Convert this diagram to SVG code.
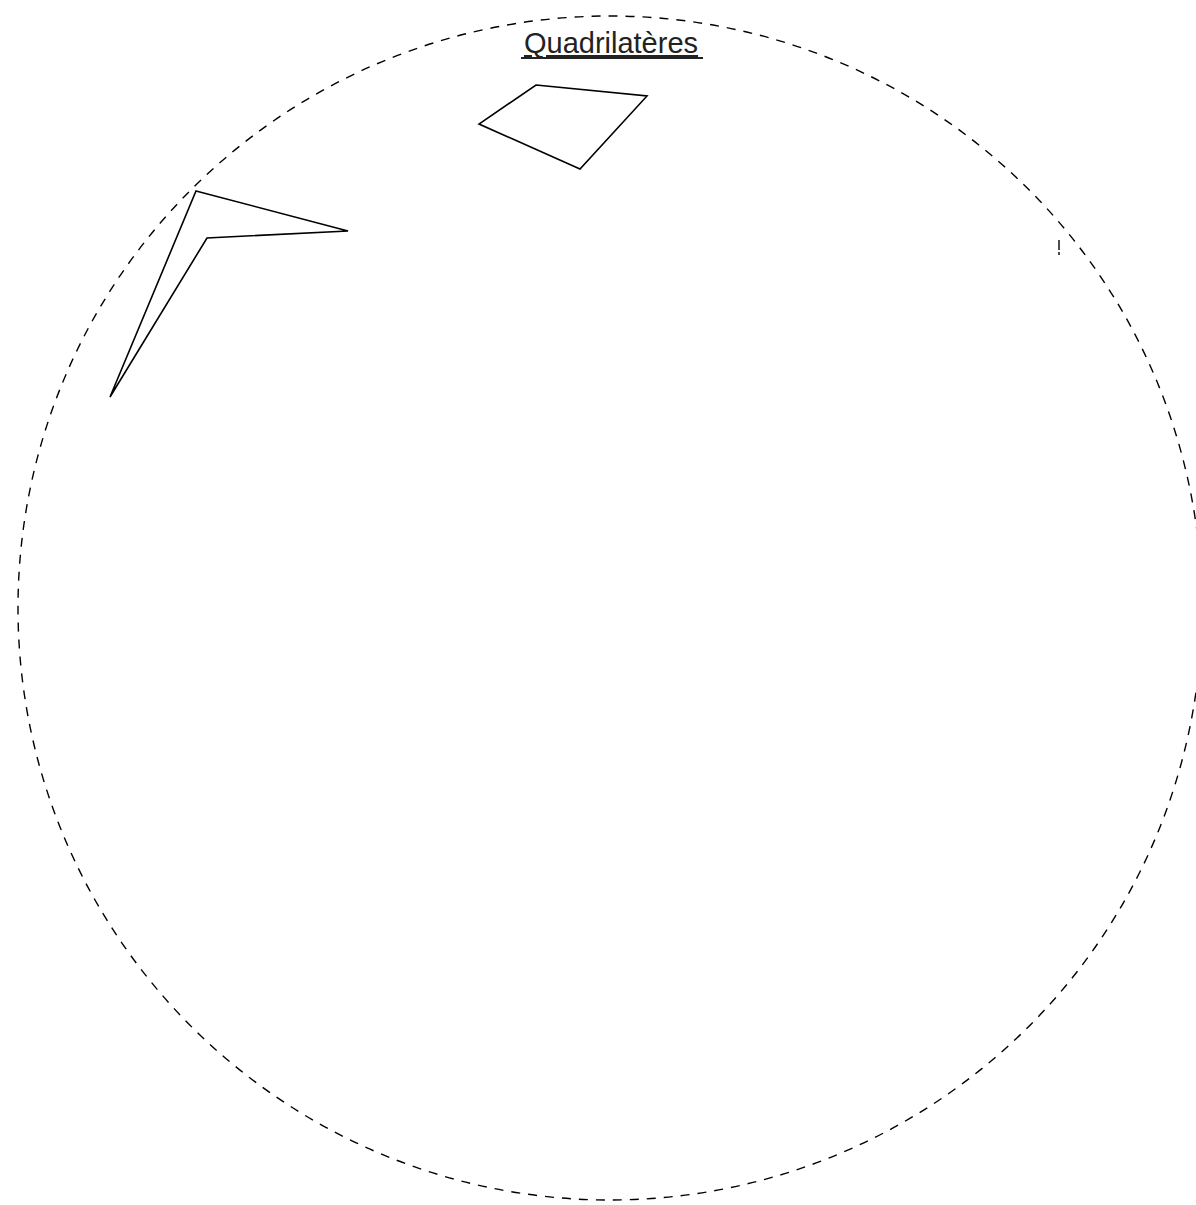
<svg xmlns="http://www.w3.org/2000/svg" width="1196" height="1205" viewBox="0 0 1196 1205">
<style>
.boundary{fill:none;stroke:#000;stroke-width:1.4;stroke-dasharray:9 8}
.shape{fill:none;stroke:#000;stroke-width:1.6;stroke-linejoin:miter}
.title{font-family:"Liberation Sans",Arial,sans-serif;font-size:29px;fill:#222;text-decoration:underline}
.mark{stroke:#000;stroke-width:1.4;fill:none}
</style>
<rect width="1196" height="1205" fill="#fff"/>
<g id="set-quadrilateres">
<circle class="boundary" cx="610" cy="608" r="592"/>
</g>
<g id="title">
<text class="title" x="611" y="53" text-anchor="middle">Quadrilatères</text>
<line x1="521" y1="58" x2="703" y2="58" stroke="#222" stroke-width="1.8"/>
</g>
<g id="convex-quadrilateral">
<polygon class="shape" points="536,85 647,96 580,169 479,124"/>
</g>
<g id="concave-quadrilateral">
<polygon class="shape" points="196,191 348,231 207,238 110,397"/>
</g>
<g id="connectors"></g>
<g id="stray-mark">
<line class="mark" x1="1059" y1="240" x2="1059" y2="250"/>
<line class="mark" x1="1059" y1="252" x2="1059" y2="255"/>
</g>
</svg>
